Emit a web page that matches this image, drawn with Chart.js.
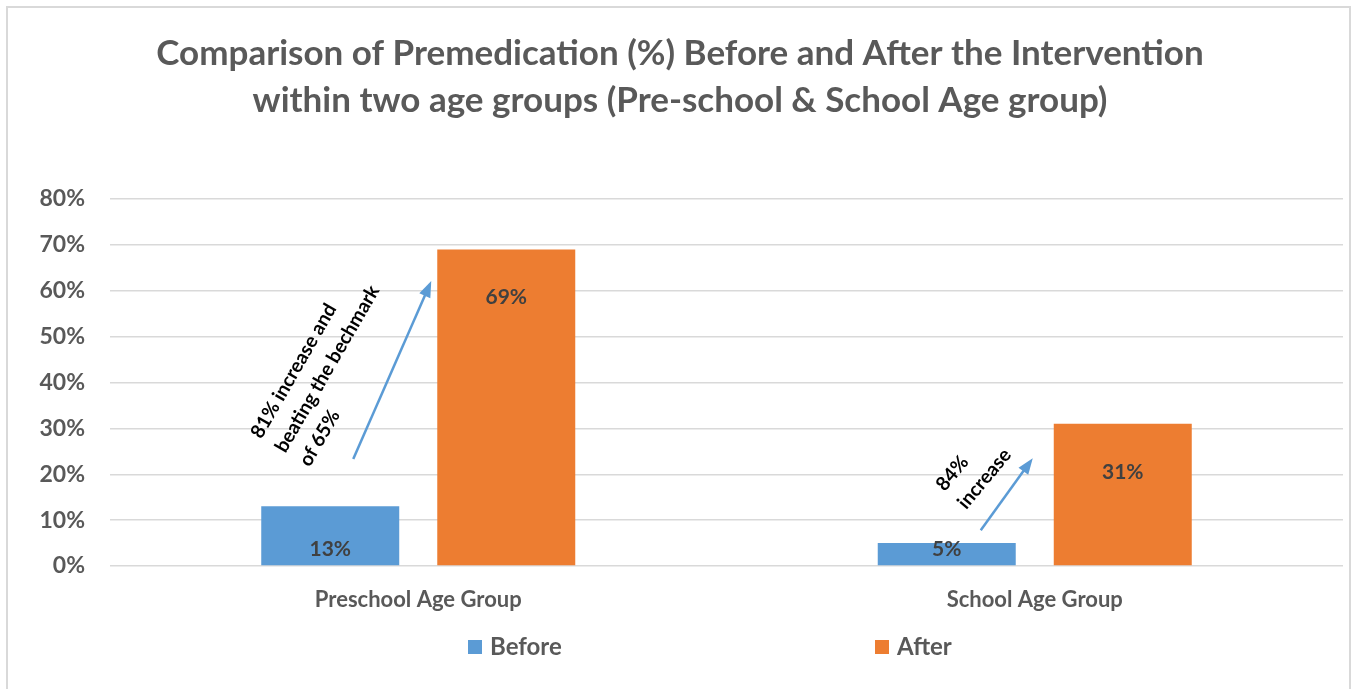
<!DOCTYPE html>
<html>
<head>
<meta charset="utf-8">
<script src="https://cdn.jsdelivr.net/npm/chart.js@4.4.1/dist/chart.umd.min.js"></script>
<style>
  body { margin: 0; background: #fff; }
</style>
</head>
<body>
<canvas id="myChart" width="1352" height="689"></canvas>
<script>
const categories = ['Preschool Age Group', 'School Age Group']
const seriesNames = ['Before', 'After']
const beforeValues = [13, 5]
const afterValues = [69, 31]
const yTicks = [0, 10, 20, 30, 40, 50, 60, 70, 80]
const titleLines = [
    'Comparison of Premedication (%) Before and After the Intervention',
    'within two age groups (Pre-school & School Age group)'
]
const noteLines = [
    ['81% increase and', 'beating the bechmark', 'of 65%'],
    ['84%', 'increase']
]
// arrows run between these y values (percent) in each category
const arrowFrom = [23.3, 7.8]
const arrowTo = [62.1, 23.5]

const blue = '#5B9BD5'
const orange = '#ED7D31'
const grey = '#595959'
const font = 'Lato'

// white card with the thin grey frame
const framePlugin = {
    id: 'frame',
    beforeDraw(chart) {
        const ctx = chart.ctx
        ctx.save()
        ctx.fillStyle = '#fff'
        ctx.fillRect(0, 0, chart.width, chart.height)
        ctx.strokeStyle = '#d9d9d9'
        ctx.lineWidth = 2
        ctx.strokeRect(7, 7, chart.width - 9, chart.height + 20)
        ctx.restore()
    }
}

const barLabels = {
    id: 'barLabels',
    afterDatasetsDraw(chart) {
        const ctx = chart.ctx
        ctx.save()
        ctx.font = `bold 21px ${font}`
        ctx.fillStyle = '#404040'
        ctx.textAlign = 'center'
        ctx.textBaseline = 'middle'
        chart.data.datasets.forEach((ds, i) => {
            chart.getDatasetMeta(i).data.forEach((bar, j) => {
                const y = Math.min(bar.y + 48, bar.base - 16)
                ctx.fillText(ds.data[j] + '%', bar.x, y)
            })
        })
        ctx.restore()
    }
}

const drawArrow = (ctx, x1, y1, x2, y2) => {
    const a = Math.atan2(y2 - y1, x2 - x1)
    const head = 16
    ctx.beginPath()
    ctx.moveTo(x1, y1)
    ctx.lineTo(x2 - Math.cos(a) * head * 0.8, y2 - Math.sin(a) * head * 0.8)
    ctx.stroke()
    ctx.beginPath()
    ctx.moveTo(x2, y2)
    ctx.lineTo(x2 - head * Math.cos(a) + 6 * Math.sin(a), y2 - head * Math.sin(a) - 6 * Math.cos(a))
    ctx.lineTo(x2 - head * Math.cos(a) - 6 * Math.sin(a), y2 - head * Math.sin(a) + 6 * Math.cos(a))
    ctx.closePath()
    ctx.fill()
}

const notesPlugin = {
    id: 'notes',
    afterDraw(chart) {
        const ctx = chart.ctx
        const xs = chart.scales.x
        const ys = chart.scales.y
        // pixel offsets from the category centre, and text angle
        const tailDx = [-65, -54]
        const tipDx = [13, -2]
        const textDx = [-157, -90]
        const textY = [27.5, 16.1]
        const angle = [-60, -50]
        ctx.save()
        ctx.strokeStyle = blue
        ctx.fillStyle = blue
        ctx.lineWidth = 2.5
        categories.forEach((c, i) => {
            const cx = xs.getPixelForValue(i)
            drawArrow(ctx, cx + tailDx[i], ys.getPixelForValue(arrowFrom[i]),
                cx + tipDx[i], ys.getPixelForValue(arrowTo[i]))
        })
        ctx.fillStyle = '#000'
        ctx.font = `bold 19.5px ${font}`
        ctx.textAlign = 'left'
        ctx.textBaseline = 'alphabetic'
        noteLines.forEach((lines, i) => {
            const cx = xs.getPixelForValue(i)
            ctx.save()
            ctx.translate(cx + textDx[i], ys.getPixelForValue(textY[i]))
            ctx.rotate(angle[i] * Math.PI / 180)
            lines.forEach((t, k) => ctx.fillText(t, 0, k * 28))
            ctx.restore()
        })
        ctx.restore()
    }
}

// legend drawn by hand so the two entries sit far apart like the original
const legendPlugin = {
    id: 'wideLegend',
    afterDraw(chart) {
        const ctx = chart.ctx
        const xPos = [468, 875]
        const y = chart.chartArea.bottom + 81
        ctx.save()
        ctx.font = `bold 24px ${font}`
        ctx.textBaseline = 'middle'
        ctx.textAlign = 'left'
        chart.data.datasets.forEach((ds, i) => {
            ctx.fillStyle = ds.backgroundColor
            ctx.fillRect(xPos[i], y - 7, 14, 14)
            ctx.fillStyle = grey
            ctx.fillText(ds.label, xPos[i] + 22, y)
        })
        ctx.restore()
    }
}

const chartCtx = document.getElementById('myChart').getContext('2d')

const premedChart = new Chart(chartCtx, {
    type: 'bar',
    data: {
        labels: categories,
        datasets: [{
            label: seriesNames[0],
            data: beforeValues,
            backgroundColor: blue
        }, {
            label: seriesNames[1],
            data: afterValues,
            backgroundColor: orange
        }]
    },
    options: {
        responsive: false,
        animation: false,
        layout: { padding: { left: 17, right: 9, top: 0, bottom: 0 } },
        datasets: {
            bar: { barPercentage: 0.784, categoryPercentage: 0.571 }
        },
        plugins: {
            legend: { display: false },
            tooltip: { enabled: false },
            title: {
                display: true,
                text: titleLines,
                color: grey,
                font: { family: font, size: 35, weight: 'bold', lineHeight: 1.343 },
                padding: { top: 30, bottom: 75 }
            }
        },
        scales: {
            x: {
                grid: { display: false },
                border: { display: false },
                ticks: {
                    color: grey,
                    padding: 13,
                    font: { family: font, size: 22, weight: 'bold' }
                },
                afterFit: (scale) => { scale.height = 123 }
            },
            y: {
                min: yTicks[0],
                max: yTicks[yTicks.length - 1],
                afterBuildTicks: (scale) => { scale.ticks = yTicks.map(v => ({ value: v })) },
                grid: { color: '#d9d9d9', lineWidth: 1.5, drawTicks: false },
                border: { display: false },
                ticks: {
                    color: grey,
                    padding: 25,
                    font: { family: font, size: 23, weight: 'bold' },
                    callback: (v) => v + '%'
                },
                afterFit: (scale) => { scale.width = 93 }
            }
        }
    },
    plugins: [framePlugin, barLabels, notesPlugin, legendPlugin]
})
</script>
</body>
</html>
